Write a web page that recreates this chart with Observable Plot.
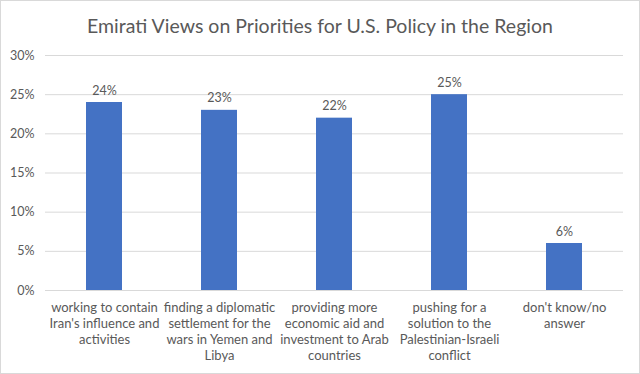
<!DOCTYPE html>
<html><head><meta charset="utf-8">
<script src="https://cdn.jsdelivr.net/npm/d3@7"></script>
<script src="https://cdn.jsdelivr.net/npm/@observablehq/plot@0.6"></script>
<style>
body{margin:0;background:#fff;}
#wrap{position:relative;width:638px;height:372px;border:1px solid #d9d9d9;font-family:Lato,sans-serif;}
#title{height:40px;line-height:50px;text-align:center;font-size:19.5px;color:#595959;}
</style></head>
<body><div id="wrap"><div id="title">Emirati Views on Priorities for U.S. Policy in the Region</div><div id="chart"></div></div>
<script>
const categories = [
  "working to contain\nIran's influence and\nactivities",
  "finding a diplomatic\nsettlement for the\nwars in Yemen and\nLibya",
  "providing more\neconomic aid and\ninvestment to Arab\ncountries",
  "pushing for a\nsolution to the\nPalestinian-Israeli\nconflict",
  "don't know/no\nanswer"
];
const values = [24, 23, 22, 25, 6];
const yTicks = [0, 5, 10, 15, 20, 25, 30];
const data = categories.map((c, i) => ({category: c, value: values[i]}));

const chart = Plot.plot({
  width: 638,
  height: 332,
  marginTop: 14,
  marginBottom: 83,
  marginLeft: 44,
  marginRight: 16,
  style: {fontFamily: "Lato, sans-serif", fontSize: "12px", color: "#595959"},
  x: {domain: categories, paddingInner: 0.69, paddingOuter: 0.345, label: null},
  y: {domain: [0, 30], label: null},
  marks: [
    Plot.gridY(yTicks, {stroke: "#d9d9d9", strokeOpacity: 1}),
    Plot.ruleY([0], {stroke: "#d9d9d9"}),
    Plot.barY(data, {x: "category", y: "value", fill: "#4472c4"}),
    Plot.text(data, {x: "category", y: "value", text: d => d.value + "%", dy: -12, fill: "#595959", fontSize: 12.5}),
    Plot.axisY(yTicks, {tickSize: 0, tickPadding: 11, tickFormat: d => d + "%", fill: "#595959", fontSize: 12.5, label: null}),
    Plot.axisX({tickSize: 0, tickPadding: 10, fill: "#595959", fontSize: 13, lineHeight: 1.24, label: null, textAnchor: "middle", lineAnchor: "top"})
  ]
});
document.getElementById("chart").appendChild(chart);
</script></body></html>
